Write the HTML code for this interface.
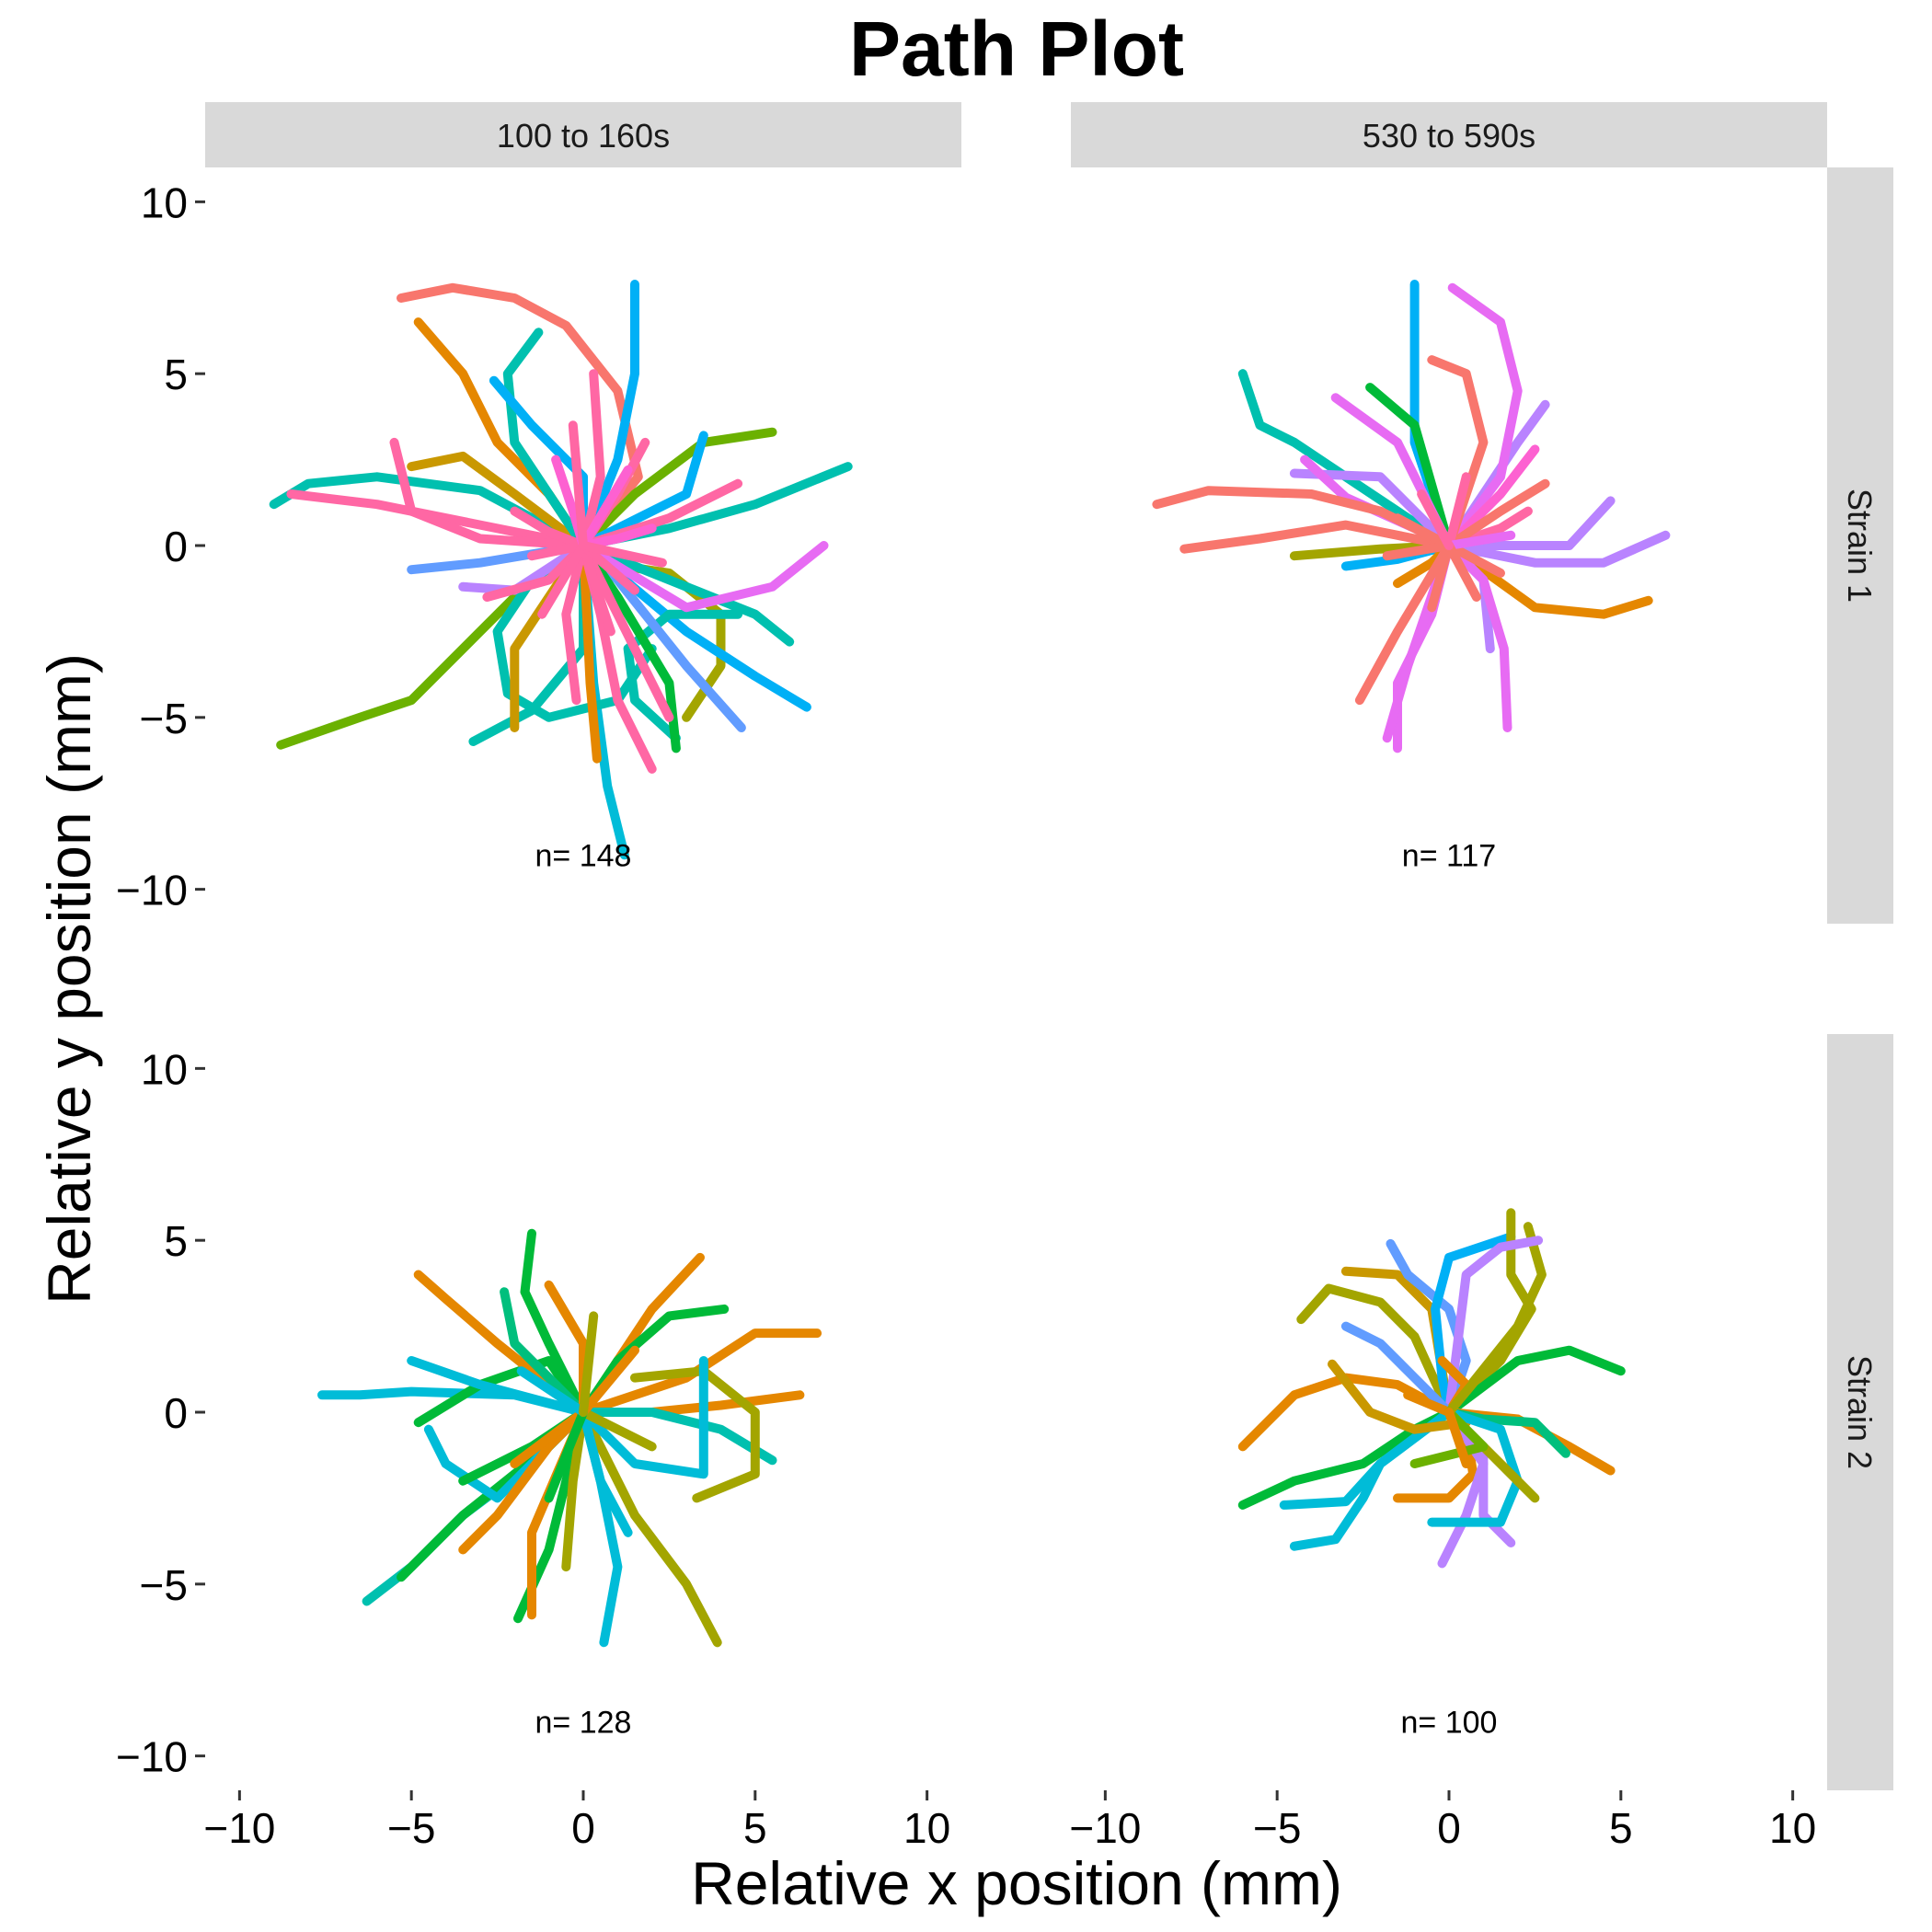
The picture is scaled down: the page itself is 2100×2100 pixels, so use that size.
<!DOCTYPE html>
<html><head><meta charset="utf-8">
<style>
html,body{margin:0;padding:0;background:#fff;}
svg{display:block;font-family:"Liberation Sans",sans-serif;}
</style></head>
<body>
<svg id="chart" width="2100" height="2100" viewBox="0 0 2100 2100">
<text x="1105" y="82" text-anchor="middle" font-size="84" font-weight="bold">Path Plot</text>
<g id="plots"></g>
<text x="1105" y="2070" text-anchor="middle" font-size="66">Relative x position (mm)</text>
<text transform="translate(98,1064) rotate(-90)" text-anchor="middle" font-size="66">Relative y position (mm)</text>
</svg>
<script>
// ---- data ----
const colTitles = ["100 to 160s", "530 to 590s"];
const rowTitles = ["Strain 1", "Strain 2"];
const counts = [[148, 117], [128, 100]];
const tickValues = [-10, -5, 0, 5, 10];
const tickLabels = ["\u221210", "\u22125", "0", "5", "10"];
const palette = ["#F8766D","#E58700","#C99800","#A3A500","#6BB100","#00BA38","#00BF7D","#00C0AF","#00BCD8","#00B0F6","#619CFF","#B983FF","#E76BF3","#FD61D1","#FF67A4"];

const pathsTL = [
 [[-5.3,7.2],[-3.8,7.5],[-2,7.2],[-0.5,6.4],[1,4.5],[1.6,2],[0,0]],
 [[-4.8,6.5],[-3.5,5],[-2.5,3],[-1,1.5],[0,0]],
 [[-9,1.2],[-8,1.8],[-6,2],[-3,1.6],[0,0]],
 [[7.7,2.3],[5,1.2],[2.5,0.5],[0,0]],
 [[5.5,3.3],[3.5,3],[1.5,1.5],[0,0]],
 [[-8.8,-5.8],[-6.5,-5],[-5,-4.5],[-3,-2.5],[-1.5,-1],[0,0]],
 [[1.2,-9],[0.7,-7],[0.3,-4],[0,0]],
 [[0.5,-0.5],[2.5,-0.8],[4,-2],[4,-3.5],[3,-5]],
 [[0,0],[-1.5,-1],[-2.5,-2.5],[-2.2,-4.3],[-1,-5],[1,-4.5],[2,-3]],
 [[-3.2,-5.7],[-1.5,-4.8],[0,-3],[0,0]],
 [[6.5,-4.7],[5,-3.8],[3,-2.5],[0,0]],
 [[6,-2.8],[5,-2],[3,-1.2],[0,0]],
 [[2.7,-5.6],[1.5,-4.5],[1.3,-3],[2.5,-2],[4.5,-2]],
 [[-5,2.3],[-3.5,2.6],[-2,1.5],[0,0]],
 [[-1.3,6.2],[-2.2,5],[-2,3],[-1,1.5],[0,0]],
 [[-2.6,4.8],[-1.5,3.5],[0,2],[0,0]],
 [[1.5,7.6],[1.5,5],[1,2.5],[0,0]],
 [[3.5,3.2],[3,1.5],[2,1],[0,0]],
 [[4.6,-5.3],[3,-3.5],[1,-1],[0,0]],
 [[-5,-0.7],[-3,-0.5],[0,0]],
 [[-3.5,-1.2],[-2,-1.3],[0,0]],
 [[2.7,-5.9],[2.5,-4],[1,-1.5],[0,0]],
 [[-2,-5.3],[-2,-3],[-1,-1.5],[0,0]],
 [[0.4,-6.2],[0.2,-4],[0,0]],
 [[7,0],[5.5,-1.2],[3,-1.8],[1,-0.6],[0,0]],
 [[-8.5,1.5],[-6,1.2],[-3,0.6],[0,0]],
 [[-5.5,3],[-5,1],[-3,0.2],[0,0]],
 [[2,-6.5],[1,-4.5],[0.5,-2],[0,0]],
 [[-2.8,-1.5],[-1,-1],[0,0]],
 [[4.5,1.8],[2.5,0.8],[0,0]],
 [[2.5,-5],[1.5,-3],[0,0]],
 [[0.3,5],[0.5,2],[0,0]],
 [[-0.2,-4.5],[-0.5,-2],[0,0]],
 [[1.8,3],[1,1.5],[0,0]],
 [[-2,1],[-1,0.4],[0,0]],
 [[2,0.5],[1,0.2],[0,0]],
 [[-1.5,-0.3],[0,0]],
 [[0.8,-2.5],[0.3,-1],[0,0]],
 [[-0.8,2.5],[-0.3,1],[0,0]],
 [[1.5,-1.3],[0,0]],
 [[-1.2,-2],[0,0]],
 [[1.3,2.2],[0,0]],
 [[2.3,-0.5],[0,0]],
 [[-0.3,3.5],[0,0]]
];
const colorsTL = [0,1,7,7,4,4,8,3,7,7,9,7,7,2,7,9,9,9,10,10,11,5,2,1,12,14,14,14,14,14,14,14,14,14,14,13,14,14,13,14,14,13,14,14];

const pathsTR = [
 [[-6,5],[-5.5,3.5],[-4.5,3],[-3,2],[0,0]],
 [[-1,7.6],[-1,5.5],[-1,3],[0,0]],
 [[-2.3,4.6],[-1,3.5],[0,0]],
 [[-4.5,-0.3],[-2,-0.1],[0,0]],
 [[-3,-0.6],[-1.5,-0.4],[0,0]],
 [[-1.5,-1.1],[-0.5,-0.5],[0,0]],
 [[5.8,-1.6],[4.5,-2],[2.5,-1.8],[0,0]],
 [[2.8,4.1],[2,3],[1,1.5],[0,0]],
 [[-4.5,2.1],[-2,2],[0,0]],
 [[6.3,0.3],[4.5,-0.5],[2.5,-0.5],[0,0]],
 [[4.7,1.3],[3.5,0],[2,0],[0,0]],
 [[1.2,-3],[1,-1],[0,0]],
 [[0.1,7.5],[1.5,6.5],[2,4.5],[1.5,2],[0,0]],
 [[-3.3,4.3],[-1.5,3],[0,0]],
 [[-4.2,2.5],[-3,1.4],[-1,0.5],[0,0]],
 [[-1.5,-5.9],[-1.5,-4],[-0.5,-2],[0,0]],
 [[-1.8,-5.6],[-1.2,-3.5],[0,0]],
 [[1.7,-5.3],[1.6,-3],[1,-1],[0,0]],
 [[2.5,2.8],[1.5,1.5],[0,0]],
 [[2.3,1],[1.5,0.5],[0,0]],
 [[-8.5,1.2],[-7,1.6],[-4,1.5],[-2,1],[0,0]],
 [[-7.7,-0.1],[-5.5,0.2],[-3,0.6],[0,0]],
 [[-0.5,5.4],[0.5,5],[1,3],[0,0]],
 [[-2.6,-4.5],[-1.5,-2.5],[0,0]],
 [[2.8,1.8],[1.5,1],[0,0]],
 [[-1.5,0.8],[0,0]],
 [[1.5,-0.8],[0,0]],
 [[0.5,2],[0,0]],
 [[-0.5,-1.8],[0,0]],
 [[1.8,0.3],[0,0]],
 [[-1.8,-0.3],[0,0]],
 [[0.8,-1.5],[0,0]],
 [[-0.8,1.5],[0,0]]
];
const colorsTR = [7,9,5,3,9,1,1,11,11,11,11,11,12,12,12,12,12,12,13,14,0,0,0,0,0,0,0,14,0,12,0,0,14];

const pathsBL = [
 [[-7.6,0.5],[-6.5,0.5],[-5,0.6],[-2,0.5],[0,0]],
 [[-4.8,-0.3],[-3,0.8],[-1,1.5],[0,0]],
 [[-6.3,-5.5],[-5,-4.5],[-3.5,-3],[-1.5,-1.5],[0,0]],
 [[-5.3,-4.8],[-3.5,-3],[-1,-1],[0,0]],
 [[-4.8,4],[-4,3.3],[-2.5,2],[0,0]],
 [[-1.5,5.2],[-1.7,3.5],[-1,2],[0,0]],
 [[6.8,2.3],[5,2.3],[3,1],[0,0]],
 [[6.3,0.5],[4,0.2],[2,0],[0,0]],
 [[3.4,4.5],[2,3],[1,1.5],[0,0]],
 [[3.9,-6.7],[3,-5],[1.5,-3],[0,0]],
 [[0.6,-6.7],[1,-4.5],[0.5,-2],[0,0]],
 [[-1.9,-6],[-1,-4],[0,0]],
 [[-1.5,-5.9],[-1.5,-3.5],[0,0]],
 [[5.5,-1.4],[4,-0.5],[2,0],[0,0]],
 [[3.3,-2.5],[5,-1.8],[5,0],[3.5,1.2],[1.5,1]],
 [[-4.5,-0.5],[-4,-1.5],[-2.5,-2.5],[-1,-1],[0,0]],
 [[4.1,3],[2.5,2.8],[1,1.5],[0,0]],
 [[3.5,1.5],[3.5,-0.5],[3.5,-1.8],[1.5,-1.5],[0,0]],
 [[-3.5,-4],[-2.5,-3],[-1,-1],[0,0]],
 [[-2.3,3.5],[-2,2],[0,0]],
 [[-0.5,-4.5],[-0.3,-2],[0,0]],
 [[1.3,-3.5],[0.5,-2],[0,0]],
 [[-3.5,-2],[-1.5,-1],[0,0]],
 [[-1,3.7],[0,2],[0,0]],
 [[-5,1.5],[-3,0.8],[0,0]],
 [[-2,-1.5],[0,0]],
 [[2,-1],[0,0]],
 [[-1,-2.5],[0,0]],
 [[1.5,1.8],[0,0]],
 [[-1.8,1.2],[0,0]],
 [[0.3,2.8],[0,0]]
];
const colorsBL = [8,5,7,5,1,5,1,1,1,3,8,5,1,7,3,8,5,8,1,6,3,8,5,1,8,1,3,5,1,8,3];

const pathsBR = [
 [[-6,-1],[-4.5,0.5],[-3,1],[-1.5,0.8],[0,0]],
 [[-6,-2.7],[-4.5,-2],[-2.5,-1.5],[-1,-0.5],[0,0]],
 [[-4.5,-3.9],[-3.3,-3.7],[-2.5,-2.5],[-2,-1.5],[0,0]],
 [[-4.8,-2.7],[-3,-2.6],[-2,-1.5],[0,0]],
 [[-3,4.1],[-1.5,4],[-0.5,3],[0,0]],
 [[-4.3,2.7],[-3.5,3.6],[-2,3.2],[-1,2.2],[0,0]],
 [[-1.7,4.9],[-1.2,4],[0,3],[0.5,1.5],[0,0]],
 [[1.8,5.1],[0,4.5],[-0.4,3],[-0.2,1],[0,0]],
 [[1.8,5.8],[1.8,4],[2.4,3],[1.5,1.5],[0,0]],
 [[2.3,5.4],[2.7,4],[2,2.5],[0,0]],
 [[2.6,5],[1.5,4.8],[0.5,4],[0,0]],
 [[5,1.2],[3.5,1.8],[2,1.5],[0,0]],
 [[4.7,-1.7],[3.5,-1],[2,-0.2],[0,0]],
 [[3.4,-1.2],[2.5,-0.3],[1,-0.2],[0,0]],
 [[-3.4,1.4],[-2.3,0],[-1,-0.5],[0.5,-0.3],[0,0]],
 [[-1.5,-2.5],[0,-2.5],[0.7,-1.8],[0.5,-0.5],[0,0]],
 [[-0.2,-4.4],[0.5,-3],[1,-1.5],[0,0]],
 [[1.8,-3.8],[1,-3],[1,-1],[0,0]],
 [[-0.5,-3.2],[1.5,-3.2],[2,-2],[1.5,-0.5],[0,0]],
 [[2.5,-2.5],[1,-1],[0,0]],
 [[-0.2,1.5],[0.5,0.8],[0,0]],
 [[-1,-1.5],[1,-1],[0,0]],
 [[-3,2.5],[-2,2],[-1,1],[0,0]],
 [[-1.2,0.5],[0,0]],
 [[1,1.2],[0,0]],
 [[0.5,-1.5],[0,0]]
];
const colorsBR = [1,5,8,8,2,3,10,9,3,3,11,5,1,6,2,1,11,11,8,3,1,4,10,1,3,1];

// ---- layout ----
const colX = [223, 1164], rowY = [182, 1124], P = 822, DMIN = -11, DMAX = 11;
const axisBottom = rowY[1] + P;
const stripX = colX[1] + P;
const svgNS = "http://www.w3.org/2000/svg";
const root = document.getElementById('plots');
function sx(c, v) { return colX[c] + (v - DMIN) / (DMAX - DMIN) * P; }
function sy(r, v) { return rowY[r] + (DMAX - v) / (DMAX - DMIN) * P; }
function mk(tag, attrs, parent) {
  const e = document.createElementNS(svgNS, tag);
  for (const k in attrs) e.setAttribute(k, attrs[k]);
  (parent || root).appendChild(e);
  return e;
}
const allPaths = [[pathsTL, pathsTR], [pathsBL, pathsBR]];
const allColors = [[colorsTL, colorsTR], [colorsBL, colorsBR]];

colTitles.forEach((t, c) => {
  const r = mk('rect', {x: colX[c], y: 111, width: P, height: 71, fill: '#d9d9d9'});
  
  
  const tx = mk('text', {x: colX[c] + P / 2, y: 160, 'text-anchor': 'middle', 'font-size': 36, fill: '#1a1a1a'});
  tx.textContent = t;
  
  
});
rowTitles.forEach((t, r) => {
  const rc = mk('rect', {x: stripX, y: rowY[r], width: 72, height: P, fill: '#d9d9d9'});
  
  
  const cx = stripX + 36, cy = rowY[r] + P / 2;
  const tx = mk('text', {x: 0, y: 0, transform: `translate(${cx - 13},${cy}) rotate(90)`, 'text-anchor': 'middle', 'font-size': 36, fill: '#1a1a1a'});
  tx.textContent = t;
  
  
});
for (let r = 0; r < 2; r++) {
  tickValues.forEach((v, i) => {
    const y = sy(r, v);
    const tk = mk('line', {x1: 212, x2: 223, y1: y, y2: y, stroke: '#333', 'stroke-width': 3});
    
    
    const tl = mk('text', {x: 204, y: y + 17, 'text-anchor': 'end', 'font-size': 46, fill: '#000'});
    tl.textContent = tickLabels[i];
    
    
  });
}
for (let c = 0; c < 2; c++) {
  tickValues.forEach((v, i) => {
    const x = sx(c, v);
    const tk = mk('line', {x1: x, x2: x, y1: axisBottom, y2: axisBottom + 11, stroke: '#333', 'stroke-width': 3});
    
    
    const tl = mk('text', {x: x, y: axisBottom + 57, 'text-anchor': 'middle', 'font-size': 46, fill: '#000'});
    tl.textContent = tickLabels[i];
    
    
  });
}
for (let r = 0; r < 2; r++) for (let c = 0; c < 2; c++) {
  const g = mk('g', {});
  
  
  allPaths[r][c].forEach((pts, k) => {
    const d = pts.map((p, j) => (j ? 'L' : 'M') + sx(c, p[0]).toFixed(1) + ' ' + sy(r, p[1]).toFixed(1)).join(' ');
    const col = palette[allColors[r][c][k] % palette.length];
    const pe = mk('path', {d: d, fill: 'none', stroke: col, 'stroke-width': 10, 'stroke-linecap': 'round', 'stroke-linejoin': 'round'}, g);
    
    
  });
  const nt = mk('text', {x: sx(c, 0), y: sy(r, -9) + 12, 'text-anchor': 'middle', 'font-size': 34, fill: '#000'});
  nt.textContent = 'n= ' + counts[r][c];
  
  
}
</script>
</body></html>
